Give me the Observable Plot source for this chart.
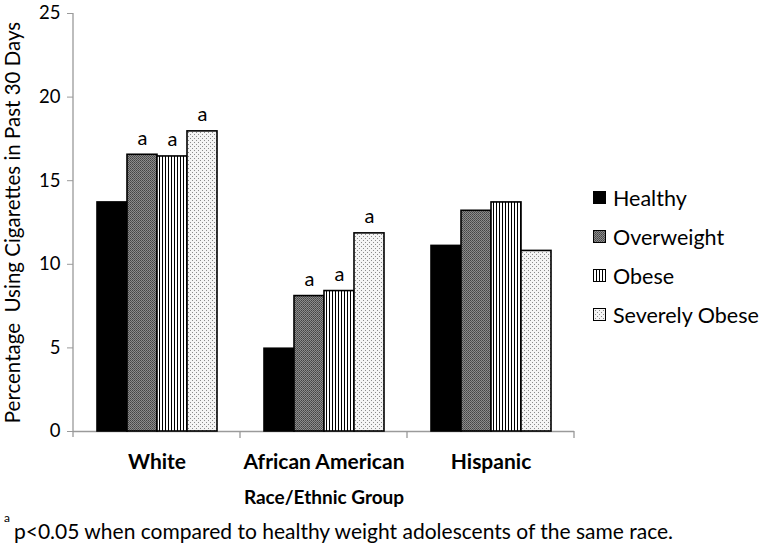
<!DOCTYPE html>
<html><head><meta charset="utf-8">
<script src="https://cdn.jsdelivr.net/npm/d3@7"></script>
<script src="https://cdn.jsdelivr.net/npm/@observablehq/plot@0.6"></script>
<style>
body{margin:0;background:#fff;font-family:Lato,"Open Sans",sans-serif;color:#000}
#wrap{position:relative;width:760px;height:544px;overflow:hidden;background:#fff}
#legend{position:absolute;left:593px;top:178px;font-size:21.5px}
.row{display:flex;align-items:center;height:39px;white-space:nowrap}
.row svg{margin-right:7px;flex:none}
#foot{position:absolute;left:4px;top:518px;font-size:21px;line-height:26px;white-space:nowrap}
#foot sup{font-size:12px;vertical-align:top;line-height:12px;margin-right:4px;position:relative;top:-6px}
</style></head><body>
<div id="wrap">
<svg width="0" height="0" style="position:absolute">
<defs>
<pattern id="pHealthy" width="2" height="2" patternUnits="userSpaceOnUse"><rect width="2" height="2" fill="#000"/></pattern>
<pattern id="pOver" width="2" height="2" patternUnits="userSpaceOnUse"><rect width="2" height="2" fill="#8c8c8c"/><rect width="1" height="1" fill="#444"/><rect x="1" y="1" width="1" height="1" fill="#555"/></pattern>
<pattern id="pObese" width="3" height="3" patternUnits="userSpaceOnUse"><rect width="3" height="3" fill="#fff"/><rect width="1" height="3" fill="#000"/></pattern>
<pattern id="pSevere" width="4" height="4" patternUnits="userSpaceOnUse"><rect width="4" height="4" fill="#f4f4f4"/><rect width="1" height="1" fill="#8a8a8a"/><rect x="2" y="2" width="1" height="1" fill="#8a8a8a"/></pattern>
</defs>
</svg>
<div id="chart"></div>
<div id="legend"></div>
<div id="foot"><sup>a</sup>p&lt;0.05 when compared to healthy weight adolescents of the same race.</div>
</div>
<script>
// ---- data ----
const groups = ["White", "African American", "Hispanic"];
const weights = ["Healthy", "Overweight", "Obese", "Severely Obese"];
const healthy = [13.7, 4.95, 11.1];
const overweight = [16.55, 8.1, 13.2];
const obese = [16.45, 8.4, 13.7];
const severelyObese = [17.95, 11.85, 10.8];
const sigHealthy = [false, false, false];
const sigOverweight = [true, true, false];
const sigObese = [true, true, false];
const sigSeverelyObese = [true, true, false];
const yTicks = [0, 5, 10, 15, 20, 25];
const yLabel = "Percentage  Using Cigarettes in Past 30 Days";
const xLabel = "Race/Ethnic Group";
const sigMark = "a";
const patterns = ["url(#pHealthy)", "url(#pOver)", "url(#pObese)", "url(#pSevere)"];

const series = [healthy, overweight, obese, severelyObese];
const sigs = [sigHealthy, sigOverweight, sigObese, sigSeverelyObese];
const data = [];
groups.forEach((g, i) => weights.forEach((w, j) => data.push({group: g, weight: w, value: series[j][i], sig: sigs[j][i]})));

const axisGray = "#9a9a9a";
const plot = Plot.plot({
  width: 760, height: 510,
  marginLeft: 73, marginRight: 186, marginTop: 13, marginBottom: 79,
  style: {fontFamily: "Lato, 'Open Sans', sans-serif", background: "#fff", color: "#000"},
  fx: {domain: groups, padding: 0},
  x: {domain: weights, paddingInner: 0, paddingOuter: 0.76, axis: null},
  y: {domain: [0, 25]},
  color: {domain: weights, range: patterns},
  marks: [
    Plot.ruleY([0], {stroke: axisGray, strokeWidth: 1.3}),
    Plot.barY(data, {fx: "group", x: "weight", y: "value", fill: "weight", stroke: "#000", strokeWidth: 1.6}),
    Plot.text(data.filter(d => d.sig), {fx: "group", x: "weight", y: "value", text: () => sigMark, lineAnchor: "bottom", dy: -10, fontSize: 20}),
    Plot.axisY({ticks: yTicks, tickSize: 6, tickPadding: 7, fontSize: 18.5, stroke: axisGray, label: null}),
    Plot.axisY({ticks: [], tickSize: 0, fontSize: 20.5, label: yLabel, labelAnchor: "center", labelOffset: 68, labelArrow: "none"}),
    Plot.axisFx({anchor: "bottom", tickSize: 0, tickPadding: 23, fontSize: 21, fontWeight: "bold", label: null}),
    Plot.axisFx({anchor: "bottom", ticks: [], tickSize: 0, fontSize: 19, fontWeight: "bold", label: xLabel, labelAnchor: "center", labelOffset: 72})
  ]
});
document.getElementById("chart").appendChild(plot);

// axis line and band boundary ticks, from Plot's own scales
const fx = plot.scale("fx"), ys = plot.scale("y");
const svg = d3.select(plot);
const x0 = fx.range[0], step = (fx.range[1] - fx.range[0]) / groups.length;
const y0 = ys.apply(0), yTop = ys.apply(yTicks[yTicks.length - 1]);
const g = svg.append("g").attr("stroke", axisGray).attr("stroke-width", 1.3);
g.append("line").attr("x1", x0).attr("x2", x0).attr("y1", yTop).attr("y2", y0 + 6);
groups.forEach((_, i) => g.append("line").attr("x1", x0 + step * (i + 1)).attr("x2", x0 + step * (i + 1)).attr("y1", y0).attr("y2", y0 + 7));

// legend
const leg = document.getElementById("legend");
weights.forEach((w, j) => {
  const row = document.createElement("div");
  row.className = "row";
  row.innerHTML = `<svg width="13" height="13"><rect x="0.5" y="0.5" width="12" height="12" fill="${patterns[j]}" stroke="#000" stroke-width="1"/></svg><span>${w}</span>`;
  leg.appendChild(row);
});
</script>
</body></html>
